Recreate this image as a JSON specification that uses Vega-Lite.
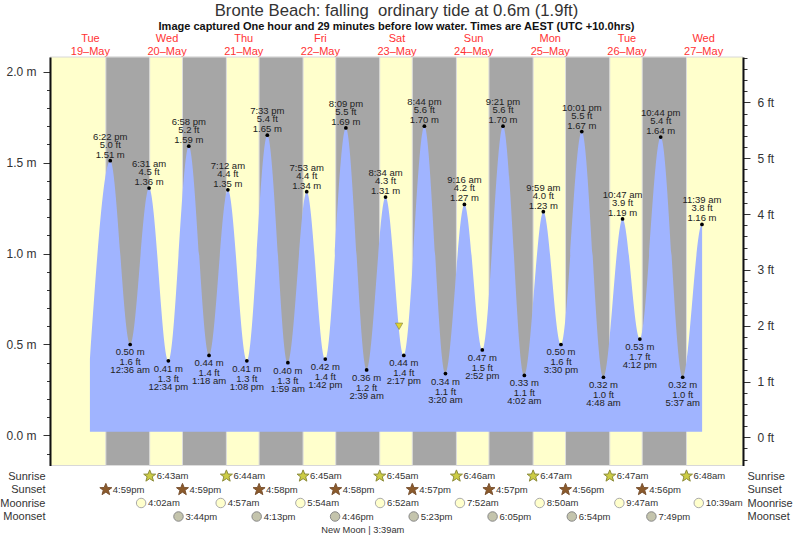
{"$schema":"https://vega.github.io/schema/vega-lite/v6.json","width":693,"height":482,"autosize":{"type":"none"},"padding":{"left":50,"top":57,"right":50,"bottom":0},"background":"white","config":{"view":{"stroke":null},"font":"Liberation Sans"},
"title":{"text":"Bronte Beach: falling \u00a0ordinary tide at 0.6m (1.9ft)","subtitle":"Image captured One hour and 29 minutes before low water. Times are AEST (UTC +10.0hrs)","font":"Liberation Sans","fontSize":16.7,"fontWeight":"normal","color":"#333333","subtitleFont":"Liberation Sans","subtitleFontSize":11,"subtitleFontWeight":"bold","subtitleColor":"#111111","subtitlePadding":1,"anchor":"middle","offset":0},
"datasets":{
"tides":[
{"t":"2020-05-19T12:00:00Z","m":0.42,"ft":1.4,"kind":"start"},
{"t":"2020-05-19T18:22:00Z","m":1.51,"ft":5.0,"kind":"H","clock":"6:22 pm","ml":"1.51 m","fl":"5.0 ft"},
{"t":"2020-05-20T00:36:00Z","m":0.50,"ft":1.6,"kind":"L","clock":"12:36 am","ml":"0.50 m","fl":"1.6 ft"},
{"t":"2020-05-20T06:31:00Z","m":1.36,"ft":4.5,"kind":"H","clock":"6:31 am","ml":"1.36 m","fl":"4.5 ft"},
{"t":"2020-05-20T12:34:00Z","m":0.41,"ft":1.3,"kind":"L","clock":"12:34 pm","ml":"0.41 m","fl":"1.3 ft"},
{"t":"2020-05-20T18:58:00Z","m":1.59,"ft":5.2,"kind":"H","clock":"6:58 pm","ml":"1.59 m","fl":"5.2 ft"},
{"t":"2020-05-21T01:18:00Z","m":0.44,"ft":1.4,"kind":"L","clock":"1:18 am","ml":"0.44 m","fl":"1.4 ft"},
{"t":"2020-05-21T07:12:00Z","m":1.35,"ft":4.4,"kind":"H","clock":"7:12 am","ml":"1.35 m","fl":"4.4 ft"},
{"t":"2020-05-21T13:08:00Z","m":0.41,"ft":1.3,"kind":"L","clock":"1:08 pm","ml":"0.41 m","fl":"1.3 ft"},
{"t":"2020-05-21T19:33:00Z","m":1.65,"ft":5.4,"kind":"H","clock":"7:33 pm","ml":"1.65 m","fl":"5.4 ft"},
{"t":"2020-05-22T01:59:00Z","m":0.40,"ft":1.3,"kind":"L","clock":"1:59 am","ml":"0.40 m","fl":"1.3 ft"},
{"t":"2020-05-22T07:53:00Z","m":1.34,"ft":4.4,"kind":"H","clock":"7:53 am","ml":"1.34 m","fl":"4.4 ft"},
{"t":"2020-05-22T13:42:00Z","m":0.42,"ft":1.4,"kind":"L","clock":"1:42 pm","ml":"0.42 m","fl":"1.4 ft"},
{"t":"2020-05-22T20:09:00Z","m":1.69,"ft":5.5,"kind":"H","clock":"8:09 pm","ml":"1.69 m","fl":"5.5 ft"},
{"t":"2020-05-23T02:39:00Z","m":0.36,"ft":1.2,"kind":"L","clock":"2:39 am","ml":"0.36 m","fl":"1.2 ft"},
{"t":"2020-05-23T08:34:00Z","m":1.31,"ft":4.3,"kind":"H","clock":"8:34 am","ml":"1.31 m","fl":"4.3 ft"},
{"t":"2020-05-23T14:17:00Z","m":0.44,"ft":1.4,"kind":"L","clock":"2:17 pm","ml":"0.44 m","fl":"1.4 ft"},
{"t":"2020-05-23T20:44:00Z","m":1.70,"ft":5.6,"kind":"H","clock":"8:44 pm","ml":"1.70 m","fl":"5.6 ft"},
{"t":"2020-05-24T03:20:00Z","m":0.34,"ft":1.1,"kind":"L","clock":"3:20 am","ml":"0.34 m","fl":"1.1 ft"},
{"t":"2020-05-24T09:16:00Z","m":1.27,"ft":4.2,"kind":"H","clock":"9:16 am","ml":"1.27 m","fl":"4.2 ft"},
{"t":"2020-05-24T14:52:00Z","m":0.47,"ft":1.5,"kind":"L","clock":"2:52 pm","ml":"0.47 m","fl":"1.5 ft"},
{"t":"2020-05-24T21:21:00Z","m":1.70,"ft":5.6,"kind":"H","clock":"9:21 pm","ml":"1.70 m","fl":"5.6 ft"},
{"t":"2020-05-25T04:02:00Z","m":0.33,"ft":1.1,"kind":"L","clock":"4:02 am","ml":"0.33 m","fl":"1.1 ft"},
{"t":"2020-05-25T09:59:00Z","m":1.23,"ft":4.0,"kind":"H","clock":"9:59 am","ml":"1.23 m","fl":"4.0 ft"},
{"t":"2020-05-25T15:30:00Z","m":0.50,"ft":1.6,"kind":"L","clock":"3:30 pm","ml":"0.50 m","fl":"1.6 ft"},
{"t":"2020-05-25T22:01:00Z","m":1.67,"ft":5.5,"kind":"H","clock":"10:01 pm","ml":"1.67 m","fl":"5.5 ft"},
{"t":"2020-05-26T04:48:00Z","m":0.32,"ft":1.0,"kind":"L","clock":"4:48 am","ml":"0.32 m","fl":"1.0 ft"},
{"t":"2020-05-26T10:47:00Z","m":1.19,"ft":3.9,"kind":"H","clock":"10:47 am","ml":"1.19 m","fl":"3.9 ft"},
{"t":"2020-05-26T16:12:00Z","m":0.53,"ft":1.7,"kind":"L","clock":"4:12 pm","ml":"0.53 m","fl":"1.7 ft"},
{"t":"2020-05-26T22:44:00Z","m":1.64,"ft":5.4,"kind":"H","clock":"10:44 pm","ml":"1.64 m","fl":"5.4 ft"},
{"t":"2020-05-27T05:37:00Z","m":0.32,"ft":1.0,"kind":"L","clock":"5:37 am","ml":"0.32 m","fl":"1.0 ft"},
{"t":"2020-05-27T11:39:00Z","m":1.16,"ft":3.8,"kind":"H","clock":"11:39 am","ml":"1.16 m","fl":"3.8 ft"},
{"t":"2020-05-27T11:42:00Z","m":1.16,"ft":3.8,"kind":"end"}],
"night":[
{"t":"2020-05-19T16:59:00Z","t2":"2020-05-20T06:43:00Z"},
{"t":"2020-05-20T16:59:00Z","t2":"2020-05-21T06:44:00Z"},
{"t":"2020-05-21T16:58:00Z","t2":"2020-05-22T06:45:00Z"},
{"t":"2020-05-22T16:58:00Z","t2":"2020-05-23T06:45:00Z"},
{"t":"2020-05-23T16:57:00Z","t2":"2020-05-24T06:46:00Z"},
{"t":"2020-05-24T16:57:00Z","t2":"2020-05-25T06:47:00Z"},
{"t":"2020-05-25T16:56:00Z","t2":"2020-05-26T06:47:00Z"},
{"t":"2020-05-26T16:56:00Z","t2":"2020-05-27T06:48:00Z"}],
"events":[
{"t":"2020-05-20T06:43:00Z","row":"Sunrise","label":"6:43am"},{"t":"2020-05-21T06:44:00Z","row":"Sunrise","label":"6:44am"},{"t":"2020-05-22T06:45:00Z","row":"Sunrise","label":"6:45am"},{"t":"2020-05-23T06:45:00Z","row":"Sunrise","label":"6:45am"},{"t":"2020-05-24T06:46:00Z","row":"Sunrise","label":"6:46am"},{"t":"2020-05-25T06:47:00Z","row":"Sunrise","label":"6:47am"},{"t":"2020-05-26T06:47:00Z","row":"Sunrise","label":"6:47am"},{"t":"2020-05-27T06:48:00Z","row":"Sunrise","label":"6:48am"},
{"t":"2020-05-19T16:59:00Z","row":"Sunset","label":"4:59pm"},{"t":"2020-05-20T16:59:00Z","row":"Sunset","label":"4:59pm"},{"t":"2020-05-21T16:58:00Z","row":"Sunset","label":"4:58pm"},{"t":"2020-05-22T16:58:00Z","row":"Sunset","label":"4:58pm"},{"t":"2020-05-23T16:57:00Z","row":"Sunset","label":"4:57pm"},{"t":"2020-05-24T16:57:00Z","row":"Sunset","label":"4:57pm"},{"t":"2020-05-25T16:56:00Z","row":"Sunset","label":"4:56pm"},{"t":"2020-05-26T16:56:00Z","row":"Sunset","label":"4:56pm"},
{"t":"2020-05-20T04:02:00Z","row":"Moonrise","label":"4:02am"},{"t":"2020-05-21T04:57:00Z","row":"Moonrise","label":"4:57am"},{"t":"2020-05-22T05:54:00Z","row":"Moonrise","label":"5:54am"},{"t":"2020-05-23T06:52:00Z","row":"Moonrise","label":"6:52am"},{"t":"2020-05-24T07:52:00Z","row":"Moonrise","label":"7:52am"},{"t":"2020-05-25T08:50:00Z","row":"Moonrise","label":"8:50am"},{"t":"2020-05-26T09:47:00Z","row":"Moonrise","label":"9:47am"},{"t":"2020-05-27T10:39:00Z","row":"Moonrise","label":"10:39am"},
{"t":"2020-05-20T15:44:00Z","row":"Moonset","label":"3:44pm"},{"t":"2020-05-21T16:13:00Z","row":"Moonset","label":"4:13pm"},{"t":"2020-05-22T16:46:00Z","row":"Moonset","label":"4:46pm"},{"t":"2020-05-23T17:23:00Z","row":"Moonset","label":"5:23pm"},{"t":"2020-05-24T18:05:00Z","row":"Moonset","label":"6:05pm"},{"t":"2020-05-25T18:54:00Z","row":"Moonset","label":"6:54pm"},{"t":"2020-05-26T19:49:00Z","row":"Moonset","label":"7:49pm"}]
},
"encoding":{"x":{"field":"t","type":"temporal","title":null,"scale":{"type":"utc","domain":[{"year":2020,"month":5,"date":18,"hours":23,"minutes":30,"utc":true},{"year":2020,"month":5,"date":28,"hours":0,"minutes":30,"utc":true}]},
"axis":{"orient":"top","values":[{"year":2020,"month":5,"date":19,"hours":12,"utc":true},{"year":2020,"month":5,"date":20,"hours":12,"utc":true},{"year":2020,"month":5,"date":21,"hours":12,"utc":true},{"year":2020,"month":5,"date":22,"hours":12,"utc":true},{"year":2020,"month":5,"date":23,"hours":12,"utc":true},{"year":2020,"month":5,"date":24,"hours":12,"utc":true},{"year":2020,"month":5,"date":25,"hours":12,"utc":true},{"year":2020,"month":5,"date":26,"hours":12,"utc":true},{"year":2020,"month":5,"date":27,"hours":12,"utc":true}],"labelExpr":"[utcFormat(datum.value,'%a'),utcFormat(datum.value,'%d')+'–'+utcFormat(datum.value,'%b')]","ticks":false,"domain":false,"grid":false,"labelColor":"#FF3333","labelFontSize":11,"labelPadding":14,"labelLineHeight":13.5,"labelAngle":0,"labelAlign":"center","labelBaseline":"bottom","labelOverlap":false,"labelBound":false,"labelFlush":false}}},
"resolve":{"scale":{"y":"independent"}},
"layer":[
{"data":{"values":[{"t":"2020-05-18T23:30:00Z","t2":"2020-05-28T00:30:00Z"}],"format":{"parse":{"t2":"date"}}},"mark":{"type":"rect","fill":"#FFFFCC","stroke":"#D8D8D8","strokeWidth":1},"encoding":{"x2":{"field":"t2"},"y":{"datum":2.08,"type":"quantitative","scale":{"domain":[-0.165,2.08],"range":[408.5,0],"nice":false,"zero":false},"axis":null},"y2":{"datum":-0.165}}},
{"data":{"name":"night","format":{"parse":{"t2":"date"}}},"mark":{"type":"rect","fill":"#A6A6A6","stroke":"#DDDDDD","strokeWidth":1},"encoding":{"x2":{"field":"t2"},"y":{"datum":2.08,"type":"quantitative","scale":{"domain":[-0.165,2.08],"range":[408.5,0],"nice":false,"zero":false},"axis":null},"y2":{"datum":-0.165}}},
{"encoding":{"y":{"field":"m","type":"quantitative","title":null,"scale":{"domain":[-0.165,2.08],"range":[408.5,0],"nice":false,"zero":false},"axis":{"orient":"left","title":null,"grid":false,"zindex":2,"values":[-0.1,0,0.1,0.2,0.3,0.4,0.5,0.6,0.7,0.8,0.9,1,1.1,1.2,1.3,1.4,1.5,1.6,1.7,1.8,1.9,2],"labelExpr":"abs(datum.value*2-round(datum.value*2))<0.01?format(datum.value,'.1f')+' m':''","tickSize":{"condition":{"test":"abs(datum.value*2-round(datum.value*2))<0.01","value":7},"value":3.5},"tickColor":"#333333","tickWidth":1,"domainColor":"#111111","domainWidth":2,"labelFontSize":12,"labelColor":"#333333","labelPadding":7,"labelOverlap":false,"labelBound":false,"labelFlush":false}}},
"layer":[
{"data":{"name":"tides"},"mark":{"type":"area","interpolate":"monotone","fill":"#A0B4FF"},"encoding":{"y2":{"datum":0.02}}},
{"data":{"name":"tides"},"transform":[{"filter":"datum.kind=='H'||datum.kind=='L'"}],"mark":{"type":"point","filled":true,"color":"#000000","size":14,"opacity":1}},
{"data":{"name":"tides"},"transform":[{"filter":"datum.kind=='H'"}],"mark":{"type":"text","fontSize":9.5,"color":"#222222","dy":-24},"encoding":{"text":{"field":"clock"}}},
{"data":{"name":"tides"},"transform":[{"filter":"datum.kind=='H'"}],"mark":{"type":"text","fontSize":9.5,"color":"#222222","dy":-16},"encoding":{"text":{"field":"fl"}}},
{"data":{"name":"tides"},"transform":[{"filter":"datum.kind=='H'"}],"mark":{"type":"text","fontSize":9.5,"color":"#222222","dy":-6},"encoding":{"text":{"field":"ml"}}},
{"data":{"name":"tides"},"transform":[{"filter":"datum.kind=='L'"}],"mark":{"type":"text","fontSize":9.5,"color":"#222222","dy":8},"encoding":{"text":{"field":"ml"}}},
{"data":{"name":"tides"},"transform":[{"filter":"datum.kind=='L'"}],"mark":{"type":"text","fontSize":9.5,"color":"#222222","dy":18},"encoding":{"text":{"field":"fl"}}},
{"data":{"name":"tides"},"transform":[{"filter":"datum.kind=='L'"}],"mark":{"type":"text","fontSize":9.5,"color":"#222222","dy":26},"encoding":{"text":{"field":"clock"}}},
{"data":{"values":[{"t":"2020-05-23T12:48:00Z","m":0.6}]},"mark":{"type":"point","shape":"triangle-down","filled":true,"fill":"#E2D52A","stroke":"#8A8A50","strokeWidth":0.7,"opacity":1,"size":55}}
]},
{"data":{"name":"tides"},"mark":{"type":"point","opacity":0,"size":1},"encoding":{"y":{"field":"ft","type":"quantitative","title":null,"scale":{"domain":[-0.505,6.815],"range":[408.5,0],"nice":false,"zero":false},"axis":{"orient":"right","title":null,"grid":false,"zindex":2,"values":[-0.4,-0.2,0,0.2,0.4,0.6,0.8,1,1.2,1.4,1.6,1.8,2,2.2,2.4,2.6,2.8,3,3.2,3.4,3.6,3.8,4,4.2,4.4,4.6,4.8,5,5.2,5.4,5.6,5.8,6,6.2,6.4,6.6,6.8],"labelExpr":"abs(datum.value-round(datum.value))<0.01?format(round(datum.value),'d')+' ft':''","tickSize":{"condition":{"test":"abs(datum.value-round(datum.value))<0.01","value":7},"value":4},"tickColor":"#333333","tickWidth":1,"domainColor":"#111111","domainWidth":2,"labelFontSize":12,"labelColor":"#333333","labelPadding":7,"labelOverlap":false,"labelBound":false,"labelFlush":false}}}},
{"encoding":{"y":{"field":"row","type":"nominal","title":null,"scale":{"type":"point","padding":0,"domain":["Sunrise","Sunset","Moonrise","Moonset","Moon phase"],"range":[419,473]},"axis":{"orient":"left","title":null,"values":["Sunrise","Sunset","Moonrise","Moonset"],"domain":false,"ticks":false,"grid":false,"labelFontSize":11,"labelColor":"#333333","labelPadding":5,"labelOverlap":false,"labelBound":false}}},
"layer":[
{"data":{"name":"events"},"transform":[{"filter":"datum.row=='Sunrise'"}],"mark":{"type":"point","shape":"M0,-1L0.27,-0.32L0.98,-0.3L0.42,0.13L0.62,0.84L0,0.43L-0.62,0.84L-0.42,0.13L-0.98,-0.3L-0.27,-0.32Z","filled":true,"fill":"#CCCC44","stroke":"#8C8C3A","strokeWidth":1,"opacity":1,"size":150}},
{"data":{"name":"events"},"transform":[{"filter":"datum.row=='Sunset'"}],"mark":{"type":"point","shape":"M0,-1L0.27,-0.32L0.98,-0.3L0.42,0.13L0.62,0.84L0,0.43L-0.62,0.84L-0.42,0.13L-0.98,-0.3L-0.27,-0.32Z","filled":true,"fill":"#8B5A2B","stroke":"#7A5230","strokeWidth":1,"opacity":1,"size":150}},
{"data":{"name":"events"},"transform":[{"filter":"datum.row=='Moonrise'"}],"mark":{"type":"point","shape":"circle","filled":true,"fill":"#FFFFCC","stroke":"#AAAAAA","strokeWidth":1,"opacity":1,"size":90}},
{"data":{"name":"events"},"transform":[{"filter":"datum.row=='Moonset'"}],"mark":{"type":"point","shape":"circle","filled":true,"fill":"#C4C4AC","stroke":"#888888","strokeWidth":1,"opacity":1,"size":90}},
{"data":{"name":"events"},"mark":{"type":"text","align":"left","dx":7,"fontSize":9.5,"color":"#333333"},"encoding":{"text":{"field":"label"}}},
{"data":{"values":[{"t":"2020-05-23T03:39:00Z","row":"Moon phase","label":"New Moon | 3:39am"}]},"mark":{"type":"text","align":"center","dx":-7,"fontSize":9.3,"color":"#333333"},"encoding":{"text":{"field":"label"}}}
]},
{"data":{"name":"events"},"mark":{"type":"point","opacity":0,"size":1},"encoding":{"y":{"field":"row","type":"nominal","title":null,"scale":{"type":"point","padding":0,"domain":["Sunrise","Sunset","Moonrise","Moonset","Moon phase"],"range":[419,473]},"axis":{"orient":"right","title":null,"values":["Sunrise","Sunset","Moonrise","Moonset"],"domain":false,"ticks":false,"grid":false,"labelFontSize":11,"labelColor":"#333333","labelPadding":4,"labelOverlap":false,"labelBound":false}}}}
]}
